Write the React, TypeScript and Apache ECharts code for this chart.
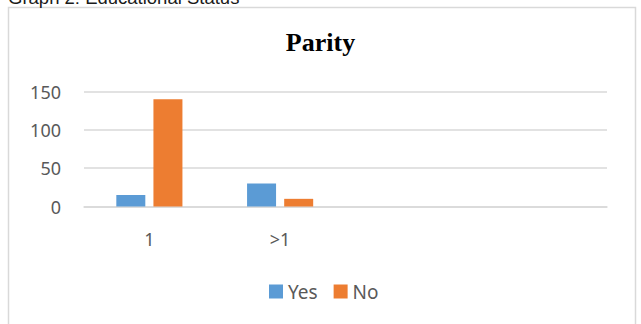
import React, { useEffect, useRef } from "react";
import * as echarts from "echarts";

const categories = ["1", ">1", "", ""];
const yesValues = [15, 30, null, null];
const noValues = [140, 10, null, null];
const seriesNames = ["Yes", "No"];
const yTicks = { min: 0, max: 150, interval: 50 };

export default function App() {
  const ref = useRef<HTMLDivElement>(null);
  useEffect(() => {
    if (!ref.current) return;
    const chart = echarts.init(ref.current, null, { renderer: "svg" });
    const labelColor = "#595959";
    const font = "'Noto Sans', sans-serif";
    chart.setOption({
      animation: false,
      backgroundColor: "#ffffff",
      title: {
        text: "Parity",
        left: "center",
        top: 24,
        textStyle: { fontFamily: "'Liberation Serif', serif", fontWeight: "bold", fontSize: 26, color: "#000" },
      },
      graphic: [
        {
          type: "rect",
          shape: { x: 8.5, y: 7.5, width: 627, height: 330 },
          style: { fill: "none", stroke: "#d9d9d9", lineWidth: 1.5 },
          silent: true,
        },
        {
          type: "text",
          x: 8,
          y: -2.5,
          style: {
            text: "Graph 2: Educational Status",
            font: "18.5px 'Liberation Sans', Arial, sans-serif",
            fill: "#1a1a1a",
            verticalAlign: "middle",
          },
        },
      ],
      legend: {
        data: seriesNames,
        left: 264,
        top: 277,
        itemWidth: 14,
        itemHeight: 14,
        itemGap: 16,
        icon: "rect",
        textStyle: { fontFamily: font, fontSize: 19, color: labelColor },
      },
      grid: { left: 84, right: 34, top: 91.5, bottom: 117.5 },
      xAxis: {
        type: "category",
        data: categories,
        axisLine: { show: true, lineStyle: { color: "#d9d9d9", width: 1.5 } },
        axisTick: { show: false },
        axisLabel: { color: labelColor, fontFamily: font, fontSize: 18, margin: 23 },
      },
      yAxis: {
        type: "value",
        min: yTicks.min,
        max: yTicks.max,
        interval: yTicks.interval,
        axisLine: { show: false },
        axisTick: { show: false },
        splitLine: { lineStyle: { color: "#d9d9d9", width: 1.5 } },
        axisLabel: { color: labelColor, fontFamily: font, fontSize: 18, margin: 23 },
      },
      series: [
        {
          name: seriesNames[0],
          type: "bar",
          data: yesValues,
          itemStyle: { color: "#5b9bd5" },
          barWidth: 29,
          barGap: "28%",
        },
        {
          name: seriesNames[1],
          type: "bar",
          data: noValues,
          itemStyle: { color: "#ed7d31" },
          barWidth: 29,
          barGap: "28%",
        },
      ],
    });
    return () => chart.dispose();
  }, []);
  return (
    <div
      ref={ref}
      style={{ position: "fixed", left: 0, top: 0, width: 641, height: 324 }}
    />
  );
}
